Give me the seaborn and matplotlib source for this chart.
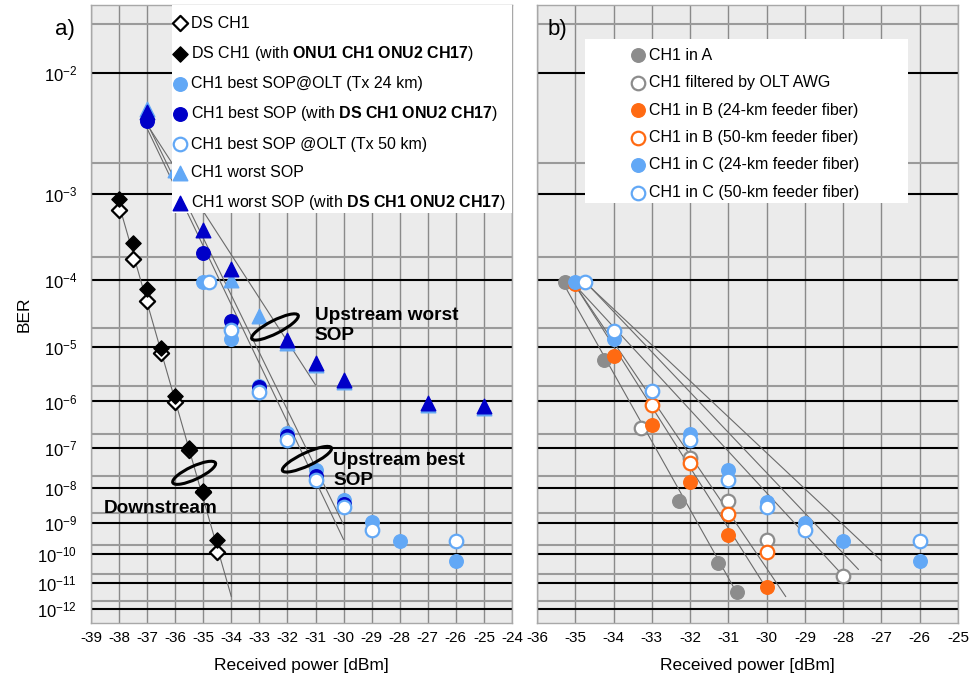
import numpy as np
import matplotlib
matplotlib.use("Agg")
import matplotlib.pyplot as plt
import seaborn as sns
from matplotlib.patches import Ellipse, Rectangle
from matplotlib.transforms import ScaledTranslation

# ---------------- panel a data (received power dBm, BER) ----------------
ds_x = [-38, -37.5, -37, -36.5, -36, -35.5, -35, -34.5]
ds_ber = [6.9e-4, 1.9e-4, 5.1e-5, 7.9e-6, 9.6e-7, 8.9e-8, 7.4e-9, 1.2e-10]
ds_with_ber = [8.9e-4, 2.9e-4, 7.6e-5, 9.5e-6, 1.26e-6, 9.8e-8, 8.0e-9, 3.0e-10]

best24_x = [-35, -34, -33, -32, -31, -30, -29, -28, -26]
best24_ber = [9.5e-5, 1.36e-5, 2.0e-6, 2.2e-7, 2.9e-8, 4.7e-9, 1.08e-9, 2.8e-10, 6.0e-11]

bestds_x = [-37, -35, -34, -33, -32, -31, -30]
bestds_ber = [4.5e-3, 2.2e-4, 2.6e-5, 1.94e-6, 1.8e-7, 2.0e-8, 3.6e-9]

best50_x = [-34.8, -34, -33, -32, -31, -30, -29, -26]
best50_ber = [9.5e-5, 1.9e-5, 1.56e-6, 1.52e-7, 1.61e-8, 2.8e-9, 6.2e-10, 2.8e-10]

worst_x = [-37, -36, -34, -33, -32, -31, -30, -27, -25]
worst_ber = [5.5e-3, 1.7e-3, 1.0e-4, 3.1e-5, 1.17e-5, 4.9e-6, 2.4e-6, 8.6e-7, 7.4e-7]

worstds_x = [-37, -35, -34, -32, -31, -30, -27, -25]
worstds_ber = [5.3e-3, 4.2e-4, 1.4e-4, 1.31e-5, 5.3e-6, 2.6e-6, 9.5e-7, 8.2e-7]

# hand drawn fit lines (end points)
fit_a = {
    "ds": ([-38, -34], [7.8e-4, 3.0e-12]),
    "worst": ([-37, -31], [4.2e-3, 2.1e-6]),
    "best1": ([-37, -30], [3.9e-3, 3.0e-10]),
    "best2": ([-37, -30], [4.3e-3, 8.7e-10]),
}

# ---------------- panel b data ----------------
a_x = [-35.26, -34.26, -33.27, -32.28, -31.27, -30.77]
a_ber = [9.4e-5, 6.0e-6, 2.8e-7, 4.4e-9, 5.2e-11, 4.4e-12]

awg_x = [-33.27, -32, -31, -30, -28]
awg_ber = [2.8e-7, 5.6e-8, 4.4e-9, 3.0e-10, 1.8e-11]

b24_x = [-35, -34, -33, -32, -31, -30]
b24_ber = [8.9e-5, 7.1e-6, 3.3e-7, 1.37e-8, 4.3e-10, 7.2e-12]

b50_x = [-33, -32, -31, -30]
b50_ber = [8.6e-7, 4.3e-8, 1.8e-9, 1.2e-10]

c24_x = [-35, -34, -32, -31, -30, -29, -28, -26]
c24_ber = [9.5e-5, 1.35e-5, 2.0e-7, 2.8e-8, 4.0e-9, 1.0e-9, 2.8e-10, 6.0e-11]

c50_x = [-34.75, -34, -33, -32, -31, -30, -29, -26]
c50_ber = [9.4e-5, 1.83e-5, 1.58e-6, 1.52e-7, 1.54e-8, 2.8e-9, 6.2e-10, 2.8e-10]

fit_b = {
    "a": ([-35.26, -30.8], [8.1e-5, 4.7e-12]),
    "b24": ([-35.0, -30.0], [8.5e-5, 6.0e-12]),
    "b50": ([-35.0, -29.5], [8.5e-5, 3.0e-12]),
    "awg": ([-35.0, -28.0], [8.5e-5, 1.8e-11]),
    "c24": ([-34.6, -27.6], [8.0e-5, 3.0e-11]),
    "c50": ([-34.6, -27.0], [8.0e-5, 6.0e-11]),
}

decades = [1e-2, 1e-3, 1e-4, 1e-5, 1e-6, 1e-7, 1e-8, 1e-9, 1e-10, 1e-11, 1e-12]
minor_lines = [2e-2, 2e-3, 2e-4, 2e-5, 2e-6, 2e-7, 2e-8, 2e-9, 2e-10, 2e-11, 2e-12]
decade_labels = [r"$10^{-%d}$" % n for n in range(2, 13)]

# colours
LB = "#62a8f6"
DB = "#0000c8"
OR = "#ff6a12"
GR = "#8c8c8c"
FIT = "#6a6a6a"

sns.set_style("white")
plt.rcParams["font.family"] = ["Liberation Sans", "DejaVu Sans"]
plt.rcParams["mathtext.fontset"] = "custom"
plt.rcParams["mathtext.rm"] = "Liberation Sans"
plt.rcParams["mathtext.bf"] = "Liberation Sans:bold"
plt.rcParams["mathtext.it"] = "Liberation Sans:italic"
plt.rcParams["axes.unicode_minus"] = False
for key in ["text.color", "axes.labelcolor", "xtick.color", "ytick.color"]:
    plt.rcParams[key] = "black"

fig = plt.figure(figsize=(9.72, 6.85), dpi=100)
ax_a = fig.add_axes([91 / 972, 62 / 685, 421 / 972, 618 / 685])
ax_b = fig.add_axes([537 / 972, 62 / 685, 421 / 972, 618 / 685])


def fwd(b):
    b = np.asarray(b, dtype=float)
    with np.errstate(all="ignore"):
        return -np.log10(-np.log10(b))


def inv(y):
    y = np.asarray(y, dtype=float)
    return 10.0 ** (-(10.0 ** (-y)))


def pts(ax, x, y, color, marker, label, open_=False, s=95):
    if open_:
        sns.scatterplot(x=x, y=y, ax=ax, marker=marker, s=s, facecolor="white",
                        edgecolor=color, linewidth=1.6, label=label, zorder=4)
    else:
        sns.scatterplot(x=x, y=y, ax=ax, marker=marker, s=s, color=color,
                        edgecolor=color, linewidth=1.0, label=label, zorder=4)


def fits(ax, d):
    for xs, ys in d.values():
        sns.lineplot(x=xs, y=ys, ax=ax, color=FIT, lw=0.8, legend=False, zorder=3)


def style(ax, xmin, xmax):
    ax.set_yscale("function", functions=(fwd, inv))
    ax.set_ylim(2.6e-13, 0.0255)
    ax.set_xlim(xmin, xmax)
    ax.set_facecolor("#ebebeb")
    ax.set_xticks(range(xmin, xmax + 1))
    ax.set_xticklabels([str(v) for v in range(xmin, xmax + 1)], fontsize=11)
    ax.set_yticks(decades)
    ax.set_yticks(minor_lines, minor=True)
    ax.yaxis.set_minor_formatter(plt.NullFormatter())
    ax.grid(axis="x", which="major", color="#8a8a8a", lw=1.0, zorder=0)
    ax.grid(axis="y", which="major", color="black", lw=1.5, zorder=0)
    ax.grid(axis="y", which="minor", color="#9a9a9a", lw=1.5, zorder=0)
    ax.set_axisbelow(True)
    ax.tick_params(axis="x", which="both", length=0, pad=6)
    ax.tick_params(axis="y", which="both", length=0, pad=10)
    for sp in ax.spines.values():
        sp.set_color("#a8a8a8")
        sp.set_linewidth(1.0)
    ax.set_xlabel("Received power [dBm]", fontsize=12.5, labelpad=9)


def ellipse(ax, cx, cy, w, h, ang):
    tr = fig.dpi_scale_trans + ScaledTranslation(cx, cy, ax.transAxes)
    ax.add_patch(Ellipse((0, 0), w / 100, h / 100, angle=ang, transform=tr,
                         fill=False, ec="black", lw=2.2, zorder=6))


# ---------------- panel a ----------------
fits(ax_a, fit_a)
pts(ax_a, ds_x, ds_ber, "black", "D", "DS CH1", open_=True, s=60)
pts(ax_a, ds_x, ds_with_ber, "black", "D",
    r"DS CH1 (with $\mathbf{ONU1\ CH1\ ONU2\ CH17}$)", s=60)
pts(ax_a, best24_x, best24_ber, LB, "o", "CH1 best SOP@OLT (Tx 24 km)")
pts(ax_a, bestds_x, bestds_ber, DB, "o",
    r"CH1 best SOP (with $\mathbf{DS\ CH1\ ONU2\ CH17}$)")
pts(ax_a, best50_x, best50_ber, LB, "o", "CH1 best SOP @OLT (Tx 50 km)", open_=True)
pts(ax_a, worst_x, worst_ber, LB, "^", "CH1 worst SOP", s=110)
pts(ax_a, worstds_x, worstds_ber, DB, "^",
    r"CH1 worst SOP (with $\mathbf{DS\ CH1\ ONU2\ CH17}$)", s=110)
style(ax_a, -39, -24)
ax_a.set_yticklabels(decade_labels, fontsize=12)
ax_a.set_ylabel("BER", fontsize=12.5, labelpad=4)

ax_a.add_patch(Rectangle((0.192, 0.663), 0.808, 0.337, transform=ax_a.transAxes,
                         fc="white", ec="none", zorder=7))
ax_a.legend(loc="upper left", bbox_to_anchor=(0.196, 0.983), frameon=False,
            fontsize=11.5, handletextpad=0.3, labelspacing=0.83, borderpad=0,
            borderaxespad=0, handlelength=0.8).set_zorder(8)

ellipse(ax_a, 0.437, 0.479, 52, 13, 27)
ellipse(ax_a, 0.513, 0.265, 54, 13, 25)
ellipse(ax_a, 0.245, 0.243, 47, 13, 25)
ax_a.text(0.532, 0.511, "Upstream worst\nSOP", transform=ax_a.transAxes, fontsize=13.7,
          fontweight="bold", va="top", ha="left", linespacing=1.25, zorder=6)
ax_a.text(0.575, 0.277, "Upstream best\nSOP", transform=ax_a.transAxes, fontsize=13.7,
          fontweight="bold", va="top", ha="left", linespacing=1.25, zorder=6)
ax_a.text(0.031, 0.186, "Downstream", transform=ax_a.transAxes, fontsize=13.7,
          fontweight="bold", va="center", ha="left", zorder=6)
fig.text(55 / 972, 1 - 30 / 685, "a)", fontsize=16, va="center", ha="left")

# ---------------- panel b ----------------
fits(ax_b, fit_b)
pts(ax_b, a_x, a_ber, GR, "o", "CH1 in A")
pts(ax_b, awg_x, awg_ber, GR, "o", "CH1 filtered by OLT AWG", open_=True)
pts(ax_b, b24_x, b24_ber, OR, "o", "CH1 in B (24-km feeder fiber)")
pts(ax_b, b50_x, b50_ber, OR, "o", "CH1 in B (50-km feeder fiber)", open_=True)
pts(ax_b, c24_x, c24_ber, LB, "o", "CH1 in C (24-km feeder fiber)")
pts(ax_b, c50_x, c50_ber, LB, "o", "CH1 in C (50-km feeder fiber)", open_=True)
style(ax_b, -36, -25)
ax_b.set_yticklabels([])
ax_b.set_ylabel("")

ax_b.add_patch(Rectangle((0.114, 0.68), 0.767, 0.265, transform=ax_b.transAxes,
                         fc="white", ec="none", zorder=7))
ax_b.legend(loc="upper left", bbox_to_anchor=(0.2247, 0.931), frameon=False,
            fontsize=11.5, handletextpad=0.3, labelspacing=0.78, borderpad=0,
            borderaxespad=0, handlelength=0.8).set_zorder(8)
ax_b.text(0.026, 0.96, "b)", transform=ax_b.transAxes, fontsize=16, va="center", ha="left")

fig.savefig("out.png", dpi=100)
